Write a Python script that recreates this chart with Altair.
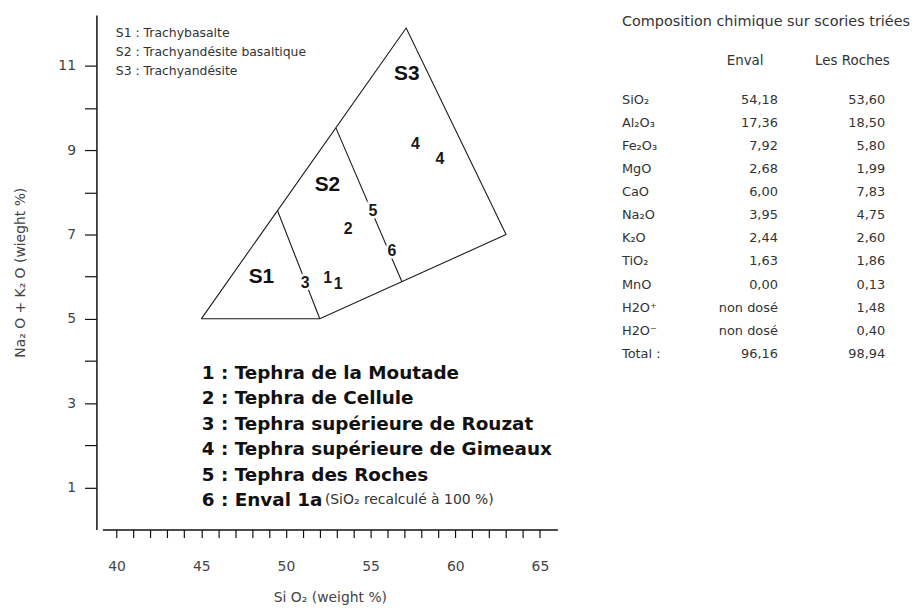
import altair as alt
import pandas as pd

# ---------------- data ----------------
# TAS field outline and inner boundaries (SiO2 wt %, Na2O+K2O wt %)
outline_x = [45.0, 52.0, 63.0, 57.1, 45.0]
outline_y = [5.0, 5.0, 7.0, 11.9, 5.0]
div12_x = [49.5, 52.0]
div12_y = [7.57, 5.0]
div23_x = [52.95, 56.85]
div23_y = [9.53, 5.88]

field_names = ["S1", "S2", "S3"]
field_x = [48.55, 52.45, 57.14]
field_y = [6.00, 8.17, 10.80]

sample_ids = ["1", "1", "2", "3", "4", "4", "5", "6"]
sample_sio2 = [52.47, 53.09, 53.67, 51.14, 57.64, 59.10, 55.13, 56.26]
sample_alk = [5.96, 5.82, 7.13, 5.86, 9.15, 8.80, 7.56, 6.61]

field_legend = ["S1 : Trachybasalte", "S2 : Trachyandésite basaltique", "S3 : Trachyandésite"]
sample_legend = ["1 : Tephra de la Moutade", "2 : Tephra de Cellule",
                 "3 : Tephra supérieure de Rouzat", "4 : Tephra supérieure de Gimeaux",
                 "5 : Tephra des Roches", "6 : Enval 1a"]
sample_note = "(SiO₂ recalculé à 100 %)"

table_title = "Composition chimique sur scories triées"
table_headers = ["Enval", "Les Roches"]
components = ["SiO₂", "Al₂O₃", "Fe₂O₃", "MgO", "CaO", "Na₂O", "K₂O", "TiO₂",
              "MnO", "H2O⁺", "H2O⁻", "Total :"]
enval = [54.18, 17.36, 7.92, 2.68, 6.00, 3.95, 2.44, 1.63, 0.00, None, None, 96.16]
roches = [53.60, 18.50, 5.80, 1.99, 7.83, 4.75, 2.60, 1.86, 0.13, 1.48, 0.40, 98.94]

# ---------------- scales / axes ----------------
xs = alt.Scale(domain=[39.16, 66.03], nice=False, zero=False)
ys = alt.Scale(domain=[0, 12.21], nice=False, zero=False)

x_axis = alt.Axis(
    values=list(range(40, 66)),
    labelExpr="datum.value % 5 === 0 ? datum.label : ''",
    title="Si O₂ (weight %)", grid=False,
    domainColor="#111", domainWidth=1.5, tickColor="#111", tickWidth=1.2, tickSize=8,
    labelFont="DejaVu Sans", labelFontSize=14, labelColor="#444", labelPadding=22,
    labelOverlap=False, labelFlush=False,
    titleFont="DejaVu Sans", titleFontSize=14, titleFontWeight="normal",
    titleColor="#444", titlePadding=17,
)
y_axis = alt.Axis(
    values=list(range(1, 12)),
    labelExpr="datum.value % 2 === 1 ? datum.label : ''",
    title="Na₂ O + K₂ O (wieght %)", grid=False, offset=6,
    domainColor="#111", domainWidth=1.5, tickColor="#111", tickWidth=1.2, tickSize=12,
    labelFont="DejaVu Sans", labelFontSize=14, labelColor="#444", labelPadding=9,
    labelOverlap=False, labelFlush=False,
    titleFont="DejaVu Sans", titleFontSize=14, titleFontWeight="normal",
    titleColor="#444", titlePadding=31,
)


def X():
    return alt.X("x:Q", scale=xs, axis=x_axis)


def Y():
    return alt.Y("y:Q", scale=ys, axis=y_axis)


# ---------------- tables for the diagram ----------------
rows = []
for seg, (xx, yy) in enumerate([(outline_x, outline_y), (div12_x, div12_y), (div23_x, div23_y)]):
    for i, (a, b) in enumerate(zip(xx, yy)):
        rows.append({"seg": seg, "ord": i, "x": a, "y": b})
edges = pd.DataFrame(rows)

fields = pd.DataFrame({"name": field_names, "x": field_x, "y": field_y})
samples = pd.DataFrame({"id": sample_ids, "x": sample_sio2, "y": sample_alk})

flegend = pd.DataFrame({"t": field_legend, "x": [39.95] * 3,
                        "y": [11.78 - 0.45 * i for i in range(len(field_legend))]})
slegend = pd.DataFrame({"t": sample_legend, "x": [45.03] * len(sample_legend),
                        "y": [3.72 - 0.605 * i for i in range(len(sample_legend))]})
snote = pd.DataFrame({"t": [sample_note], "x": [52.3], "y": [3.72 - 0.605 * 5]})

lines = alt.Chart(edges).mark_line(color="#1a1a1a", strokeWidth=1.1).encode(
    x=X(), y=Y(), detail="seg:N", order="ord:Q")

field_txt = alt.Chart(fields).mark_text(
    font="Liberation Sans", fontSize=21, fontWeight="bold", color="#111").encode(
    x=X(), y=Y(), text="name:N")

halo = alt.Chart(samples).mark_text(
    font="Liberation Sans", fontSize=16, fontWeight="bold", color="white",
    stroke="white", strokeWidth=5).encode(x=X(), y=Y(), text="id:N")
sample_txt = alt.Chart(samples).mark_text(
    font="Liberation Sans", fontSize=16, fontWeight="bold", color="#1a1a1a").encode(
    x=X(), y=Y(), text="id:N")

flegend_txt = alt.Chart(flegend).mark_text(
    align="left", font="DejaVu Sans", fontSize=12.5, color="#333").encode(
    x=X(), y=Y(), text="t:N")
slegend_txt = alt.Chart(slegend).mark_text(
    align="left", font="DejaVu Sans", fontSize=18.5, fontWeight="bold", color="#111").encode(
    x=X(), y=Y(), text="t:N")
snote_txt = alt.Chart(snote).mark_text(
    align="left", font="DejaVu Sans", fontSize=14, color="#333").encode(
    x=X(), y=Y(), text="t:N")

diagram = alt.layer(lines, field_txt, halo, sample_txt, flegend_txt,
                    slegend_txt, snote_txt).properties(width=458, height=518)

# ---------------- composition table ----------------
def fmt(v):
    return "non dosé" if v is None else f"{v:.2f}".replace(".", ",")


cells = [{"row": -2, "col": 0, "text": table_title}]
for j, h in enumerate(table_headers):
    cells.append({"row": -1, "col": j + 1, "text": h})
for r, comp in enumerate(components):
    cells.append({"row": r, "col": 0, "text": comp})
    cells.append({"row": r, "col": 1, "text": fmt(enval[r])})
    cells.append({"row": r, "col": 2, "text": fmt(roches[r])})
cells = pd.DataFrame(cells)

tx = alt.Scale(domain=[0, 1, 2], range=[0, 157, 265])
ty = alt.Scale(domain=[-2, -1, 0, 11], range=[7.3, 46.3, 85.3, 341.3])
TX = alt.X("col:Q", scale=tx, axis=None)
TY = alt.Y("row:Q", scale=ty, axis=None)

base = alt.Chart(cells)
t_title = base.mark_text(align="left", font="DejaVu Sans", fontSize=14.5, color="#333").encode(
    x=TX, y=TY, text="text:N").transform_filter("datum.row === -2")
t_left = base.mark_text(align="left", font="DejaVu Sans", fontSize=13, color="#333").encode(
    x=TX, y=TY, text="text:N").transform_filter("datum.col === 0 && datum.row >= 0")
t_vals = base.mark_text(align="right", font="DejaVu Sans", fontSize=13, color="#333").encode(
    x=TX, y=TY, text="text:N").transform_filter("datum.col > 0 && datum.row >= 0")
t_head = base.mark_text(align="center", dx=-33, font="DejaVu Sans", fontSize=13.5, color="#333").encode(
    x=TX, y=TY, text="text:N").transform_filter("datum.row === -1")

table = alt.layer(t_title, t_left, t_vals, t_head).properties(width=285, height=518)

chart = alt.hconcat(diagram, table, spacing=65).properties(
    padding={"left": 5, "top": 4, "right": 5, "bottom": 5}
).configure_view(stroke=None)

chart.save("out.html", embed_options={"renderer": "svg", "actions": False})
